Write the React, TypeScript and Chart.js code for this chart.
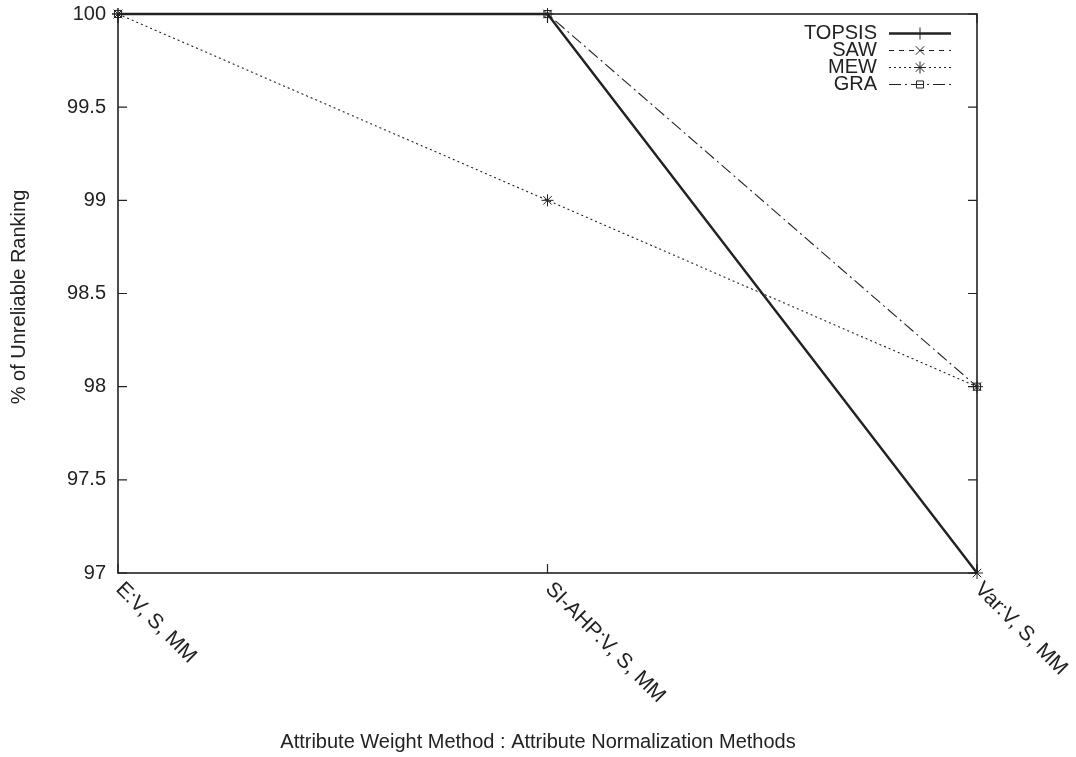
import React, { useEffect, useRef } from "react";
import { Chart, registerables } from "chart.js";
import { drawPoint } from "chart.js/helpers";

Chart.register(...registerables);

const categories = ["E:V, S, MM", "SI-AHP:V, S, MM", "Var:V, S, MM"];
const seriesNames = ["TOPSIS", "SAW", "MEW", "GRA"];
const topsis = [100, 100, 97];
const saw = [100, 100, 97];
const mew = [100, 99, 98];
const gra = [100, 100, 98];
const yTicks = [97, 97.5, 98, 98.5, 99, 99.5, 100];
const xTitle = "Attribute Weight Method : Attribute Normalization Methods";
const yTitle = "% of Unreliable Ranking";

const FONT = '"Liberation Sans", Arial, Helvetica, sans-serif';
const INK = "#222";

const framePlugin = {
  id: "gnuFrame",
  afterDatasetsDraw(chart: any) {
    const { ctx, chartArea } = chart;
    const { left, right, top, bottom } = chartArea;
    const ys = chart.scales.y;
    const xs = chart.scales.x;
    ctx.save();
    ctx.strokeStyle = INK;
    ctx.lineWidth = 1.6;
    ctx.setLineDash([]);
    ctx.strokeRect(left, top, right - left, bottom - top);
    ctx.lineWidth = 1.2;
    ctx.beginPath();
    yTicks.forEach((v) => {
      const py = ys.getPixelForValue(v);
      ctx.moveTo(left, py);
      ctx.lineTo(left + 9, py);
      ctx.moveTo(right, py);
      ctx.lineTo(right - 9, py);
    });
    categories.forEach((_, i) => {
      const px = xs.getPixelForValue(i);
      ctx.moveTo(px, bottom);
      ctx.lineTo(px, bottom - 9);
      ctx.moveTo(px, top);
      ctx.lineTo(px, top + 9);
    });
    ctx.stroke();

    // rotated x labels
    ctx.fillStyle = INK;
    ctx.font = `21px ${FONT}`;
    ctx.textAlign = "left";
    ctx.textBaseline = "middle";
    categories.forEach((c, i) => {
      const px = xs.getPixelForValue(i);
      ctx.save();
      ctx.translate(px + 1, bottom + 13);
      ctx.rotate(Math.PI / 4);
      ctx.fillText(c, 0, 0);
      ctx.restore();
    });

    // axis titles
    ctx.font = `20px ${FONT}`;
    ctx.textAlign = "center";
    ctx.fillText(xTitle, 538, 742);
    ctx.save();
    ctx.translate(19, 297);
    ctx.rotate(-Math.PI / 2);
    ctx.fillText(yTitle, 0, 0);
    ctx.restore();

    // legend
    chart.data.datasets.forEach((ds: any, i: number) => {
      const ly = 33.5 + i * 17;
      ctx.fillStyle = INK;
      ctx.textAlign = "right";
      ctx.fillText(ds.label, 877, ly);
      ctx.strokeStyle = ds.borderColor;
      ctx.lineWidth = ds.borderWidth;
      ctx.setLineDash(ds.borderDash || []);
      ctx.beginPath();
      ctx.moveTo(889, ly);
      ctx.lineTo(951, ly);
      ctx.stroke();
      ctx.setLineDash([]);
      ctx.lineWidth = 1;
      ctx.fillStyle = "rgba(0,0,0,0)";
      ctx.strokeStyle = INK;
      drawPoint(
        ctx,
        {
          pointStyle: ds.pointStyle,
          radius: ds.pointRadius,
          borderWidth: 1,
        } as any,
        920,
        ly
      );
    });
    ctx.restore();
  },
};

export default function App() {
  const ref = useRef<HTMLCanvasElement>(null);
  useEffect(() => {
    if (!ref.current) return;
    const mk = (label: string, data: number[], width: number, dash: number[], style: string, r: number) => ({
      label,
      data,
      borderColor: INK,
      backgroundColor: "rgba(0,0,0,0)",
      borderWidth: width,
      borderDash: dash,
      pointStyle: style,
      pointRadius: r,
      pointBorderWidth: 1,
      pointBorderColor: INK,
      pointBackgroundColor: "rgba(0,0,0,0)",
      tension: 0,
      fill: false,
      clip: false as any,
    });
    const chart = new Chart(ref.current, {
      type: "line",
      data: {
        labels: categories,
        datasets: [
          mk(seriesNames[0], topsis, 2.4, [], "cross", 6),
          mk(seriesNames[1], saw, 1.1, [5, 5], "crossRot", 6),
          mk(seriesNames[2], mew, 1.1, [2, 3], "star", 6),
          mk(seriesNames[3], gra, 1.1, [12, 4, 2, 4], "rect", 5),
        ],
      },
      plugins: [framePlugin],
      options: {
        animation: false,
        responsive: false,
        maintainAspectRatio: false,
        layout: { padding: { top: 14, right: 99, left: 0, bottom: 0 } },
        plugins: { legend: { display: false }, tooltip: { enabled: false } },
        scales: {
          x: {
            type: "category",
            offset: false,
            grid: { display: false, drawTicks: false },
            border: { display: false },
            ticks: { display: false },
            afterFit: (s: any) => {
              s.height = 757 - 573;
              s.paddingLeft = 0;
              s.paddingRight = 0;
            },
          },
          y: {
            min: 97,
            max: 100,
            afterBuildTicks: (s: any) => {
              s.ticks = yTicks.map((v) => ({ value: v }));
            },
            grid: { display: false, drawTicks: false },
            border: { display: false },
            ticks: {
              padding: 12,
              color: INK,
              font: { family: FONT, size: 20 },
              callback: (v: any) => String(v),
            },
            afterFit: (s: any) => {
              s.width = 118;
              s.paddingTop = 0;
              s.paddingBottom = 0;
            },
          },
        },
      },
    });
    return () => chart.destroy();
  }, []);
  return (
    <div style={{ position: "absolute", left: 0, top: 0, width: 1076, height: 757, background: "#fff" }}>
      <canvas ref={ref} width={1076} height={757} style={{ display: "block" }} />
    </div>
  );
}
